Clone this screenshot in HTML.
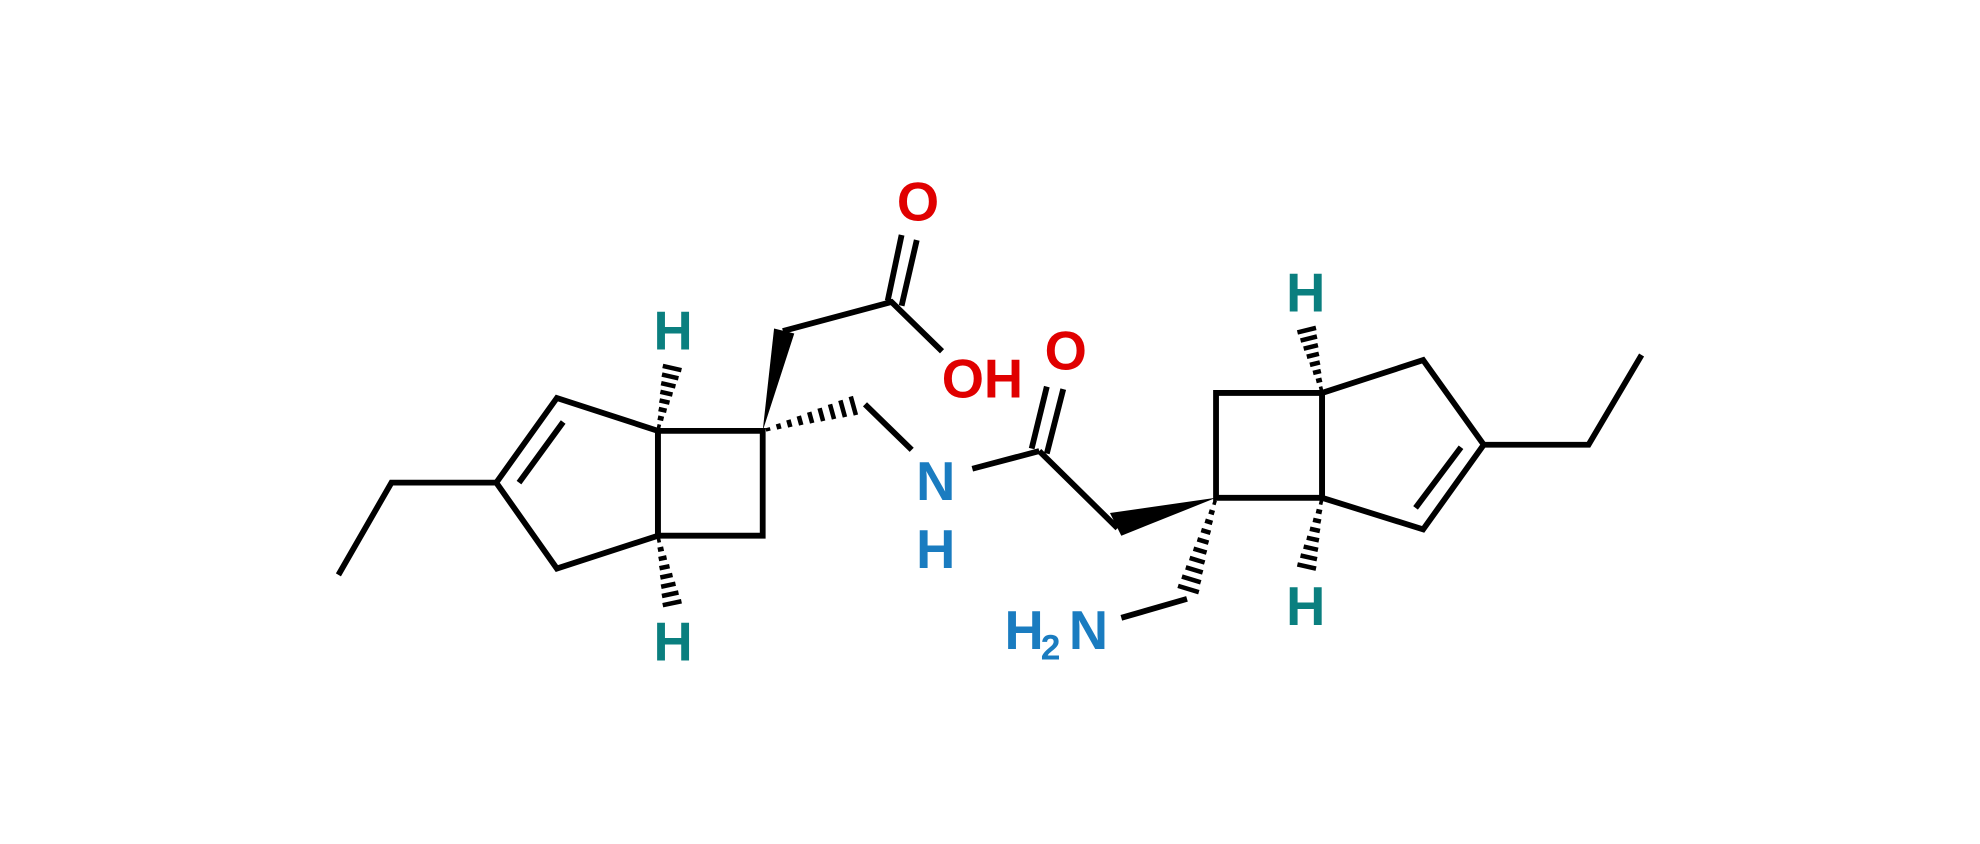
<!DOCTYPE html>
<html><head><meta charset="utf-8"><style>
html,body{margin:0;padding:0;background:#fff;}
svg{display:block}
text{font-family:"Liberation Sans",Arial,sans-serif;font-weight:bold;font-size:43px;text-anchor:middle;dominant-baseline:central}
</style></head><body>
<svg id="s" width="1980" height="844" viewBox="0 0 1568 668" preserveAspectRatio="none" xmlns="http://www.w3.org/2000/svg">
<g stroke="#000" stroke-width="4.6" fill="none" stroke-linejoin="miter">
<polyline points="268,455 310,382 393,382"/>
<polygon points="393,382 441,315 521,341 521,424 441,450"/>
<line x1="411" y1="382" x2="446" y2="334"/>
<polygon points="521,341 604,341 604,424 521,424"/>
<polyline points="620,262 706,239 746,278"/>
<line x1="703" y1="238" x2="714" y2="186"/>
<line x1="714" y1="242" x2="726" y2="190"/>
<polyline points="685,320 722,356"/>
<line x1="770" y1="371" x2="823" y2="357"/>
<line x1="817" y1="355" x2="829" y2="306"/>
<line x1="829" y1="359" x2="842" y2="308"/>
<line x1="823" y1="357" x2="885" y2="418"/>
<line x1="940" y1="474" x2="888" y2="489"/>
<polygon points="963,311 1047,311 1047,394 963,394"/>
<polygon points="1047,311 1127,285 1175,352 1127,419 1047,394"/>
<line x1="1157" y1="354" x2="1121" y2="402"/>
<polyline points="1175,352 1258,352 1300,281"/>
</g>
<polygon points="604,341 613,260 629,264" fill="#000"/>
<polygon points="963,394 879,406 888,424" fill="#000"/>
<g id="h" stroke="#000" stroke-width="3.6"></g>
<g>
<text x="727" y="160" fill="#e00000">O</text>
<text x="778" y="300" fill="#e00000">OH</text>
<text x="844" y="278" fill="#e00000">O</text>
<text x="741" y="381" fill="#1a7cc0">N</text>
<text x="741" y="435" fill="#1a7cc0">H</text>
<text x="811" y="499" fill="#1a7cc0">H</text>
<text x="832" y="513" fill="#1a7cc0" style="font-size:28px">2</text>
<text x="862" y="499" fill="#1a7cc0">N</text>
<text x="533" y="262" fill="#0a7f7f">H</text>
<text x="533" y="508" fill="#0a7f7f">H</text>
<text x="1034" y="232" fill="#0a7f7f">H</text>
<text x="1034" y="480" fill="#0a7f7f">H</text>
</g>
</svg>
<script>
var g=document.getElementById('h');
function hash(x1,y1,x2,y2,w,n){var dx=x2-x1,dy=y2-y1,L=Math.hypot(dx,dy),px=-dy/L,py=dx/L;
for(var i=0;i<n;i++){var t=(i+0.5)/n,cx=x1+dx*t,cy=y1+dy*t,hw=1+w*t;
var l=document.createElementNS('http://www.w3.org/2000/svg','line');
l.setAttribute('x1',cx-px*hw);l.setAttribute('y1',cy-py*hw);l.setAttribute('x2',cx+px*hw);l.setAttribute('y2',cy+py*hw);g.appendChild(l);}}
hash(521,341,533,288,7,8);
hash(521,424,533,481,7,8);
hash(604,341,680,320,7,9);
hash(963,394,940,470,8,10);
hash(1047,311,1034,258,7,8);
hash(1047,394,1034,452,7,8);
</script>
</body></html>
